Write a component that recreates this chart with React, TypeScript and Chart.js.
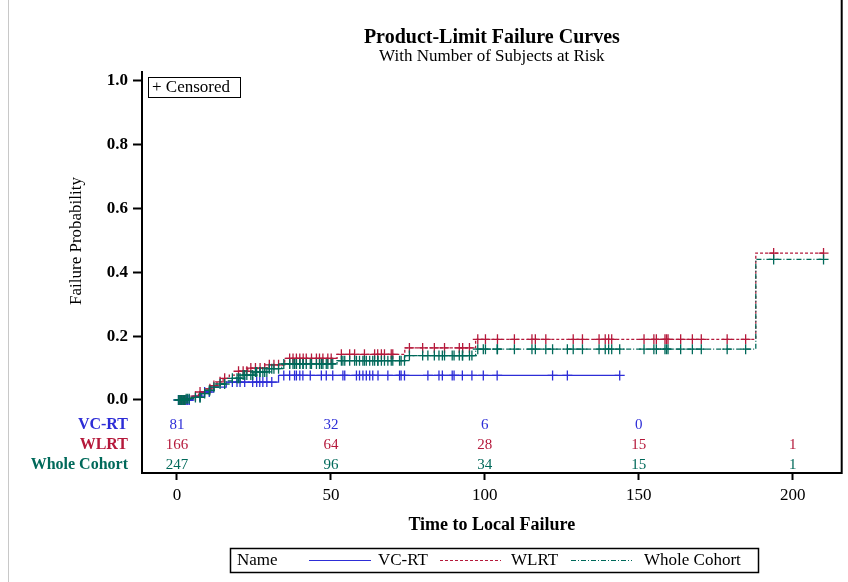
import React, { useEffect, useRef } from "react";
import { Chart, registerables } from "chart.js";

Chart.register(...registerables);

const timeTicks = [0, 50, 100, 150, 200];
const probTicks = [0, 0.2, 0.4, 0.6, 0.8, 1.0];

// Step curves: time of event, failure probability from that time on
const vcrtTimes = [0, 5, 8, 11, 16, 33, 143.8];
const vcrtFail = [0, 0.012, 0.025, 0.04, 0.056, 0.077, 0.077];
const vcrtCensor = [0.5, 1, 1.5, 2, 2.5, 3, 3.5, 4, 7.5, 9, 10.5, 18, 19.5, 20.5, 22, 24.6, 25.9, 26.9, 27.9, 29.2, 30.8,
  34.7, 36.6, 38.2, 38.8, 39.9, 40.9, 43.3, 46.9, 48.5, 50.6, 53.9, 54.5, 58.3, 59.3, 60.4, 61.5, 62.6, 63.6, 65.3, 68.5,
  72.3, 72.8, 73.9, 81.5, 85.1, 86.2, 89.4, 90.0, 92.7, 95.8, 99.5, 104, 122, 126.8, 143.8];

const wlrtTimes = [0, 3, 5, 7, 9, 11, 13, 15, 17, 20, 23, 30, 35, 52, 74, 97, 188, 210];
const wlrtFail = [0, 0.006, 0.012, 0.025, 0.035, 0.045, 0.057, 0.068, 0.078, 0.09, 0.1, 0.11, 0.13, 0.143, 0.163, 0.19, 0.46, 0.46];
const wlrtCensor = [1, 1.5, 2, 2.6, 6, 7.5, 10.7, 12, 14, 15.5, 20, 21.5, 22.7, 24, 25.5, 27, 28.5, 30, 31.5, 33,
  36.6, 37.7, 38.8, 39.9, 41, 42, 43.7, 45.3, 46.3, 47.4, 49, 50.1, 53.4, 56.1, 57.7, 60.9, 64.2, 65.2, 66.4, 67.4, 69.6, 70.1,
  75.5, 79.8, 83.6, 86.9, 91.7, 92.8, 95, 97.7, 100.2, 104.1, 109.6, 115.3, 116.4, 119.8, 128.7, 131.7, 137.1, 139.1, 140.2,
  141.2, 151.7, 154.9, 155.7, 158.5, 159, 159.5, 163.6, 167.4, 170.3, 178.7, 184.7, 193.8, 210];

const cohortTimes = [0, 3, 5, 8, 10, 12, 14, 16, 18, 21, 25, 30, 34, 52, 74, 97, 188, 210];
const cohortFail = [0, 0.004, 0.008, 0.02, 0.03, 0.04, 0.05, 0.06, 0.068, 0.078, 0.088, 0.098, 0.113, 0.123, 0.139, 0.159, 0.44, 0.44];
const cohortCensor = [...vcrtCensor, ...wlrtCensor];

const riskTimes = [0, 50, 100, 150, 200];
const vcrtRisk = [81, 32, 6, 0, null];
const wlrtRisk = [166, 64, 28, 15, 1];
const cohortRisk = [247, 96, 34, 15, 1];

const groupNames = ["VC-RT", "WLRT", "Whole Cohort"];

const BLUE = "#2d2dd7";
const RED = "#b5193b";
const TEAL = "#00695a";
const SERIF = '"Liberation Serif", serif';

const W = 848;
const H = 582;

function stepAt(times: number[], fails: number[], t: number) {
  let v = fails[0];
  for (let i = 0; i < times.length; i++) if (times[i] <= t) v = fails[i];
  return v;
}

function curve(times: number[], fails: number[]) {
  return times.map((t, i) => ({ x: t, y: fails[i] }));
}

function censors(c: number[], times: number[], fails: number[]) {
  return c.map((t) => ({ x: t, y: stepAt(times, fails, t) }));
}

const decor = {
  id: "decor",
  afterDraw(chart: any) {
    const { ctx, chartArea: a } = chart;
    const x = chart.scales.x;
    ctx.save();
    // outer light frame line on the left
    ctx.strokeStyle = "#c8c8c8";
    ctx.lineWidth = 1;
    ctx.beginPath();
    ctx.moveTo(8.5, 0);
    ctx.lineTo(8.5, H);
    ctx.stroke();

    // right line
    ctx.strokeStyle = "#000";
    ctx.lineWidth = 2;
    ctx.beginPath();
    ctx.moveTo(a.right, 0);
    ctx.lineTo(a.right, a.bottom + 1);
    ctx.stroke();

    const cx = (a.left + a.right) / 2;
    ctx.fillStyle = "#000";
    ctx.textAlign = "center";
    ctx.textBaseline = "middle";
    ctx.font = `bold 20px ${SERIF}`;
    ctx.fillText("Product-Limit Failure Curves", cx, 38);
    ctx.font = `17px ${SERIF}`;
    ctx.fillText("With Number of Subjects at Risk", cx, 57);

    ctx.font = `bold 18px ${SERIF}`;
    ctx.fillText("Time to Local Failure", cx, 525);

    ctx.save();
    ctx.translate(77, 241);
    ctx.rotate(-Math.PI / 2);
    ctx.font = `17px ${SERIF}`;
    ctx.fillText("Failure Probability", 0, 0);
    ctx.restore();

    // Censored inset
    ctx.lineWidth = 1;
    ctx.strokeRect(148.5, 77.5, 92, 20);
    ctx.textAlign = "left";
    ctx.font = `17px ${SERIF}`;
    ctx.fillText("+ Censored", 152, 88);

    // at-risk table
    const rows = [vcrtRisk, wlrtRisk, cohortRisk];
    const cols = [BLUE, RED, TEAL];
    const rowY = [425, 445, 465];
    rows.forEach((r, ri) => {
      ctx.fillStyle = cols[ri];
      ctx.textAlign = "right";
      ctx.font = `bold 16px ${SERIF}`;
      ctx.fillText(groupNames[ri], 128, rowY[ri]);
      ctx.textAlign = "center";
      ctx.font = `15px ${SERIF}`;
      r.forEach((v, i) => {
        if (v === null) return;
        ctx.fillText(String(v), x.getPixelForValue(riskTimes[i]), rowY[ri]);
      });
    });

    // legend
    const ly = 560;
    ctx.strokeStyle = "#000";
    ctx.lineWidth = 1.5;
    ctx.strokeRect(230.5, 548.5, 528, 24);
    ctx.fillStyle = "#000";
    ctx.textAlign = "left";
    ctx.font = `17px ${SERIF}`;
    ctx.fillText("Name", 237, ly + 1);
    const items = [
      { c: BLUE, d: [], x0: 309, x1: 371, tx: 378 },
      { c: RED, d: [3, 2], x0: 440, x1: 501, tx: 511 },
      { c: TEAL, d: [5, 2, 1, 2], x0: 571, x1: 632, tx: 644 },
    ];
    items.forEach((it, i) => {
      ctx.strokeStyle = it.c;
      ctx.lineWidth = 1;
      ctx.setLineDash(it.d);
      ctx.beginPath();
      ctx.moveTo(it.x0, ly + 0.5);
      ctx.lineTo(it.x1, ly + 0.5);
      ctx.stroke();
      ctx.setLineDash([]);
      ctx.fillStyle = "#000";
      ctx.fillText(groupNames[i], it.tx, ly + 1);
    });
    ctx.restore();
  },
};

export default function App() {
  const ref = useRef<HTMLCanvasElement | null>(null);
  useEffect(() => {
    if (!ref.current) return;
    const lineDs = (label: string, data: any[], color: string, dash: number[]) => ({
      label,
      data,
      showLine: true,
      stepped: "before" as const,
      borderColor: color,
      borderWidth: 1.3,
      borderDash: dash,
      pointRadius: 0,
      fill: false,
    });
    const censDs = (label: string, data: any[], color: string) => ({
      label,
      data,
      showLine: false,
      pointStyle: "cross" as const,
      pointRadius: 5,
      borderColor: color,
      backgroundColor: color,
      borderWidth: 1.3,
    });
    const chart = new Chart(ref.current, {
      type: "scatter",
      data: {
        datasets: [
          censDs("Whole Cohort censored", censors(cohortCensor, cohortTimes, cohortFail), TEAL),
          lineDs("Whole Cohort", curve(cohortTimes, cohortFail), TEAL, [5, 2, 1, 2]),
          censDs("WLRT censored", censors(wlrtCensor, wlrtTimes, wlrtFail), RED),
          lineDs("WLRT", curve(wlrtTimes, wlrtFail), RED, [3, 2]),
          censDs("VC-RT censored", censors(vcrtCensor, vcrtTimes, vcrtFail), BLUE),
          lineDs("VC-RT", curve(vcrtTimes, vcrtFail), BLUE, []),
        ] as any,
      },
      options: {
        animation: false,
        responsive: false,
        layout: { padding: { top: 72, right: 5, left: 0, bottom: 0 } },
        plugins: { legend: { display: false }, title: { display: false }, tooltip: { enabled: false } },
        scales: {
          x: {
            type: "linear",
            min: -11.35,
            max: 215.9,
            afterBuildTicks: (s: any) => {
              s.ticks = timeTicks.map((v) => ({ value: v }));
            },
            afterFit: (s: any) => {
              s.height = 109;
            },
            grid: { display: true, drawOnChartArea: false, drawTicks: true, tickLength: 7, tickColor: "#000", tickWidth: 2 },
            border: { display: true, color: "#000", width: 2 },
            ticks: { color: "#000", font: { family: SERIF, size: 17 }, padding: 5, maxRotation: 0 },
          },
          y: {
            type: "linear",
            min: -0.2286,
            max: 1.027,
            afterBuildTicks: (s: any) => {
              s.ticks = probTicks.map((v) => ({ value: v }));
            },
            afterFit: (s: any) => {
              s.width = 142;
            },
            grid: { display: true, drawOnChartArea: false, drawTicks: true, tickLength: 9, tickColor: "#000", tickWidth: 2 },
            border: { display: true, color: "#000", width: 2 },
            ticks: {
              color: "#000",
              font: { family: SERIF, size: 17, weight: "bold" },
              padding: 5,
              callback: (v: any) => Number(v).toFixed(1),
            },
          },
        },
      },
      plugins: [decor],
    });
    return () => chart.destroy();
  }, []);
  return (
    <div style={{ position: "fixed", left: 0, top: 0, width: W, height: H, background: "#fff" }}>
      <canvas ref={ref} width={W} height={H} style={{ display: "block" }} />
    </div>
  );
}
